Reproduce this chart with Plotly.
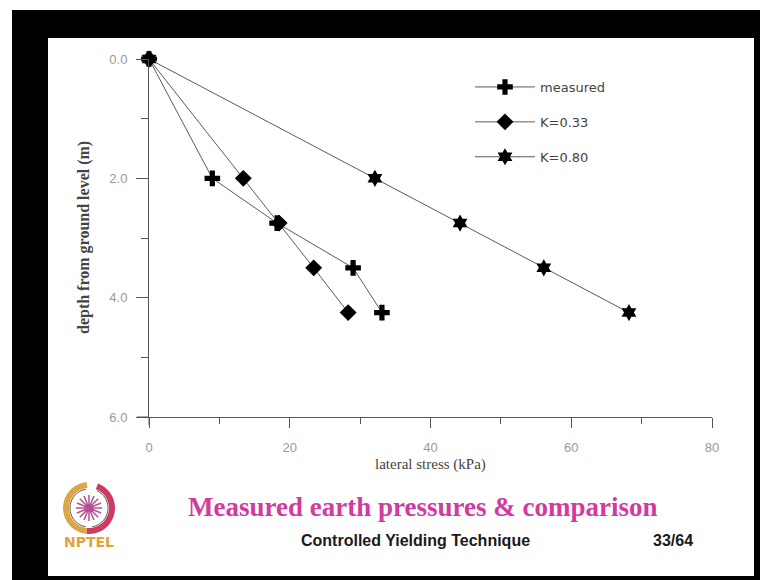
import math
import plotly.graph_objects as go

# ---- data ----
depth = [0.0, 2.0, 2.75, 3.5, 4.25]
measured = [0.0, 9.0, 18.2, 29.0, 33.1]
k033 = [0.0, 13.4, 18.5, 23.4, 28.3]
k080 = [0.0, 32.1, 44.2, 56.1, 68.2]
series_names = ["measured", "K=0.33", "K=0.80"]
series_symbols = ["cross", "diamond", "hexagram"]
series_sizes = [13, 13, 13]
x_ticks = [0, 20, 40, 60, 80]
y_ticks = [0.0, 2.0, 4.0, 6.0]

# ---- layout helpers (page pixel -> paper); page has an 8px body margin ----
OFF = 8
PW, PH = 768, 580
W, H = PW - OFF, PH - OFF
L, R, T, B = 149, 712, 59, 417


def px(x):
    return (x - L) / (R - L)


def py(y):
    return (B - y) / (B - T)


fig = go.Figure()
for i, (name, vals) in enumerate(zip(series_names, [measured, k033, k080])):
    fig.add_trace(go.Scatter(
        x=vals, y=depth, name=name, mode="lines+markers",
        line=dict(color="#5a5a5a", width=1),
        marker=dict(symbol=series_symbols[i], size=series_sizes[i], color="black",
                    line=dict(width=0)),
        cliponaxis=False, legendgroup=name,
    ))


def arc_path(cx, cy, r, a0, a1, n=30):
    pts = []
    for k in range(n + 1):
        a = math.radians(a0 + (a1 - a0) * k / n)
        pts.append((px(cx + r * math.cos(a)), py(cy - r * math.sin(a))))
    return "M" + " L".join(f"{x:.5f},{y:.5f}" for x, y in pts)


def petal_path(cx, cy, r, n=8):
    parts = []
    for k in range(n):
        a = math.pi * k / n
        parts.append(f"M{px(cx - r*math.cos(a)):.5f},{py(cy + r*math.sin(a)):.5f} "
                     f"L{px(cx + r*math.cos(a)):.5f},{py(cy - r*math.sin(a)):.5f}")
    return " ".join(parts)


LX, LY = 89, 508
shapes = [
    # black frame and white slide
    dict(type="rect", xref="paper", yref="paper", x0=px(12), x1=px(780), y0=py(10), y1=py(590),
         fillcolor="black", line=dict(width=0), layer="below"),
    dict(type="rect", xref="paper", yref="paper", x0=px(48), x1=px(754), y0=py(38), y1=py(576),
         fillcolor="white", line=dict(width=0), layer="below"),
    # axis overshoots
    dict(type="line", xref="paper", yref="paper", x0=px(137), x1=px(149), y0=0, y1=0,
         line=dict(color="#555", width=1)),
    dict(type="line", xref="paper", yref="paper", x0=0, x1=0, y0=0, y1=py(425),
         line=dict(color="#555", width=1)),
    # logo
    dict(type="path", xref="paper", yref="paper", path=arc_path(LX, LY, 23, 95, 265),
         line=dict(color="#dca847", width=6)),
    dict(type="path", xref="paper", yref="paper", path=arc_path(LX, LY, 23, -95, 70),
         line=dict(color="#cf3a63", width=6)),
    dict(type="path", xref="paper", yref="paper", path=arc_path(LX, LY, 19, 100, 260),
         line=dict(color="#555", width=1)),
    dict(type="path", xref="paper", yref="paper", path=arc_path(LX, LY, 19, -80, 65),
         line=dict(color="#555", width=1)),
    dict(type="path", xref="paper", yref="paper", path=petal_path(LX, LY, 13),
         line=dict(color="#b4508f", width=1.5)),
]

annotations = [
    dict(text="lateral stress (kPa)", x=px(430), y=py(464),
         font=dict(family="Liberation Serif", size=15, color="#444")),
    dict(text="<b>depth from ground level (m)</b>", x=px(84), y=py(238), textangle=-90,
         font=dict(family="Liberation Serif", size=16, color="#444")),
    dict(text="<b>Measured earth pressures &amp; comparison</b>", x=px(422), y=py(507),
         font=dict(family="Liberation Serif", size=27, color="#d23aa0")),
    dict(text="<b>Controlled Yielding Technique</b>", x=px(415), y=py(540),
         font=dict(family="Liberation Sans", size=16, color="#1a1a1a")),
    dict(text="<b>33/64</b>", x=px(673), y=py(540),
         font=dict(family="Liberation Sans", size=16, color="#1a1a1a")),
    dict(text="<b>NPTEL</b>", x=px(89), y=py(542),
         font=dict(family="DejaVu Sans", size=14, color="#e2a33a")),
]
for a in annotations:
    a.update(xref="paper", yref="paper", showarrow=False, xanchor="center", yanchor="middle")

fig.update_layout(
    width=W, height=H,
    margin=dict(l=L - OFF, r=PW - R, t=T - OFF, b=PH - B),
    paper_bgcolor="white", plot_bgcolor="rgba(0,0,0,0)",
    showlegend=True,
    legend=dict(x=px(470), y=py(72), xanchor="left", yanchor="top",
                font=dict(family="DejaVu Sans", size=13, color="#444"),
                bgcolor="rgba(0,0,0,0)", tracegroupgap=15, itemwidth=60),
    xaxis=dict(range=[0, 80], tickvals=x_ticks, ticktext=[str(v) for v in x_ticks],
               showgrid=False, zeroline=False, showline=True, linecolor="#555", linewidth=1,
               ticks="outside", ticklen=10, tickcolor="#555", ticklabelstandoff=8,
               minor=dict(dtick=10, ticks="outside", ticklen=6, tickcolor="#555"),
               tickfont=dict(family="Liberation Sans", size=13, color="#9a9a9a")),
    yaxis=dict(range=[6, 0], tickvals=y_ticks, ticktext=[f"{v:.1f}" for v in y_ticks],
               showgrid=False, zeroline=False, showline=True, linecolor="#555", linewidth=1,
               ticks="outside", ticklen=12, tickcolor="#555", ticklabelstandoff=6,
               minor=dict(dtick=1, ticks="outside", ticklen=7, tickcolor="#555"),
               tickfont=dict(family="Liberation Sans", size=13, color="#9a9a9a")),
    shapes=shapes, annotations=annotations,
)

fig.write_html("out.html")
